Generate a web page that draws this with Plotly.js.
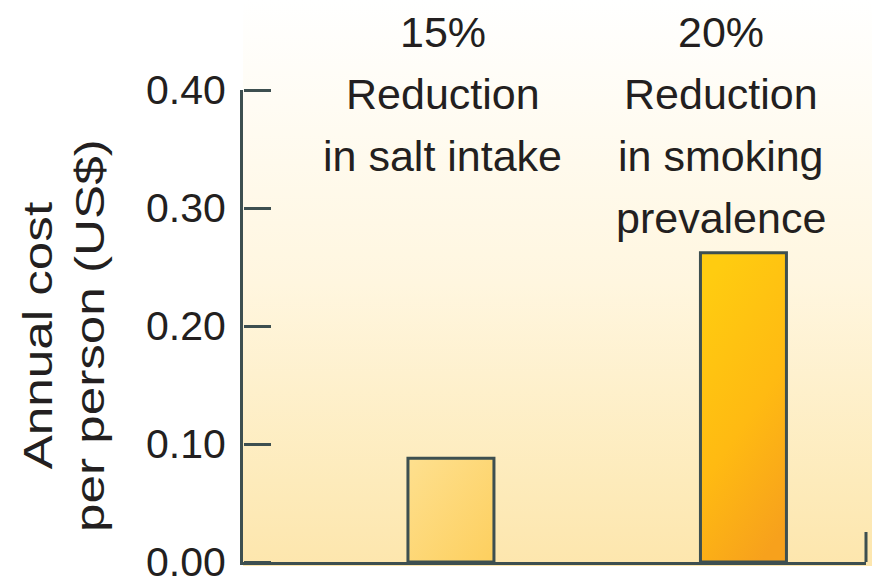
<!DOCTYPE html>
<html>
<head>
<meta charset="utf-8">
<script src="https://cdn.plot.ly/plotly-3.0.1.min.js"></script>
<style>
  html, body { margin: 0; padding: 0; background: #ffffff; }
  #wrap { position: relative; width: 872px; height: 588px; overflow: hidden; }
  #panel {
    position: absolute; left: 243px; top: 0; width: 629px; height: 566px;
    background: linear-gradient(to bottom, #ffffff 0%, #fffcf4 18%, #fff6df 50%, #fdebbb 85%, #fde6ad 100%);
  }
  #chart { position: absolute; left: 0; top: 0; width: 872px; height: 588px; }
</style>
</head>
<body>
<div id="wrap"><div id="panel"></div><div id="chart"></div></div>
<script>
// Annual cost per person (US$) of two population-wide interventions
const interventions = ['Salt reduction', 'Smoking reduction'];
const costPerPerson = [0.088, 0.262];
const labelLines = [
  ['15%', 'Reduction', 'in salt intake'],
  ['20%', 'Reduction', 'in smoking', 'prevalence']
];
const yTickValues = [0, 0.1, 0.2, 0.3, 0.4];
const yTickText = ['0.00', '0.10', '0.20', '0.30', '0.40'];
const yTitleLines = ['Annual cost', 'per person (US$)'];

// ---- styling / geometry ----
const FONT = 'Liberation Sans, Arial, Helvetica, sans-serif';
const INK = '#231f20';
const AXIS = '#3d4f50';
const PLOT_TOP = 90, PLOT_BOTTOM = 562, PLOT_LEFT = 243, PLOT_RIGHT = 866;
const W = 872, H = 588;
const pxToPaperY = p => (PLOT_BOTTOM - p) / (PLOT_BOTTOM - PLOT_TOP);
const pxToPaperX = p => (p - PLOT_LEFT) / (PLOT_RIGHT - PLOT_LEFT);
const labelNudge = [-8, -22];          // horizontal offset of each header block (px)
const firstBaseline = 47, lineGap = 62; // header text lines (px)

const annotations = [];
labelLines.forEach((lines, i) => {
  lines.forEach((txt, j) => {
    annotations.push({
      x: i, xref: 'x', xanchor: 'center', xshift: labelNudge[i],
      y: pxToPaperY(firstBaseline + lineGap * j - 15), yref: 'paper', yanchor: 'middle',
      text: txt, showarrow: false,
      font: { family: FONT, size: 43, color: INK }
    });
  });
});
annotations.push({
  x: pxToPaperX(64), xref: 'paper', xanchor: 'center',
  y: pxToPaperY(335), yref: 'paper', yanchor: 'middle',
  text: yTitleLines.join('<br>'), textangle: -90, showarrow: false,
  font: { family: FONT, size: 40, color: INK }
});

const bars = {
  type: 'bar',
  x: interventions,
  y: costPerPerson,
  width: 0.294,
  marker: { color: ['#fdd875', '#fdb914'], line: { color: AXIS, width: 3 } },
  hoverinfo: 'skip'
};
// same values on the tick-mark axis so it shares the scale
const tickCarrier = {
  type: 'scatter', mode: 'none',
  x: interventions, y: costPerPerson,
  yaxis: 'y2', hoverinfo: 'skip', showlegend: false
};

const layout = {
  width: W, height: H,
  margin: { l: PLOT_LEFT, r: W - PLOT_RIGHT, t: PLOT_TOP, b: H - PLOT_BOTTOM, pad: 0 },
  paper_bgcolor: 'rgba(0,0,0,0)',
  plot_bgcolor: 'rgba(0,0,0,0)',
  showlegend: false,
  xaxis: {
    type: 'category', range: [-0.711, 1.419], fixedrange: true,
    showline: true, linecolor: AXIS, linewidth: 3,
    ticks: '', showticklabels: false, showgrid: false, zeroline: false
  },
  yaxis: {
    range: [0, 0.4], fixedrange: true,
    tickvals: yTickValues, ticktext: yTickText,
    ticks: '',
    showline: true, linecolor: AXIS, linewidth: 3,
    showgrid: false, zeroline: false,
    ticklabelstandoff: 6,
    tickfont: { family: FONT, size: 41, color: INK }
  },
  // tick marks pointing into the plot from the left axis line
  yaxis2: {
    overlaying: 'y', side: 'right', anchor: 'free', position: 0,
    range: [0, 0.4], fixedrange: true,
    tickvals: yTickValues, showticklabels: false,
    ticks: 'outside', ticklen: 27, tickwidth: 3, tickcolor: AXIS,
    showline: false, showgrid: false, zeroline: false
  },
  shapes: [{
    type: 'line', xref: 'paper', yref: 'paper',
    x0: 1, x1: 1, y0: 0, y1: 30 / (PLOT_BOTTOM - PLOT_TOP),
    line: { color: AXIS, width: 3 }
  }],
  annotations: annotations
};

Plotly.newPlot('chart', [bars, tickCarrier], layout, { staticPlot: true, displayModeBar: false }).then(() => {
  const svgNS = 'http://www.w3.org/2000/svg';
  const svg = document.querySelector('#chart .main-svg');
  const defs = document.createElementNS(svgNS, 'defs');
  const grads = [
    { id: 'barFill0', x1: 0, y1: 0, x2: 1, y2: 1, stops: [['0%', '#fee08f'], ['100%', '#fdcf5e']] },
    { id: 'barFill1', x1: 0.3, y1: 0, x2: 0.7, y2: 1, stops: [['0%', '#ffcc10'], ['55%', '#ffba12'], ['100%', '#f7a11c']] }
  ];
  grads.forEach(g => {
    const lg = document.createElementNS(svgNS, 'linearGradient');
    lg.setAttribute('id', g.id);
    ['x1', 'y1', 'x2', 'y2'].forEach(k => lg.setAttribute(k, g[k]));
    g.stops.forEach(([off, col]) => {
      const s = document.createElementNS(svgNS, 'stop');
      s.setAttribute('offset', off);
      s.setAttribute('stop-color', col);
      lg.appendChild(s);
    });
    defs.appendChild(lg);
  });
  svg.insertBefore(defs, svg.firstChild);
  document.querySelectorAll('#chart .bars .point path').forEach((p, i) => {
    p.style.fill = 'url(#barFill' + i + ')';
  });

  // widen the rotated axis caption along its reading direction
  const caps = document.querySelectorAll('#chart .annotation');
  const cap = caps[caps.length - 1];
  const txt = cap && cap.querySelector('text');
  if (txt) {
    const bb = txt.getBBox();
    const cx = bb.x + bb.width / 2;
    const prev = txt.getAttribute('transform') || '';
    txt.setAttribute('transform', prev + ' translate(' + cx + ',0) scale(1.28,1) translate(' + (-cx) + ',0)');
  }
});
</script>
</body>
</html>
